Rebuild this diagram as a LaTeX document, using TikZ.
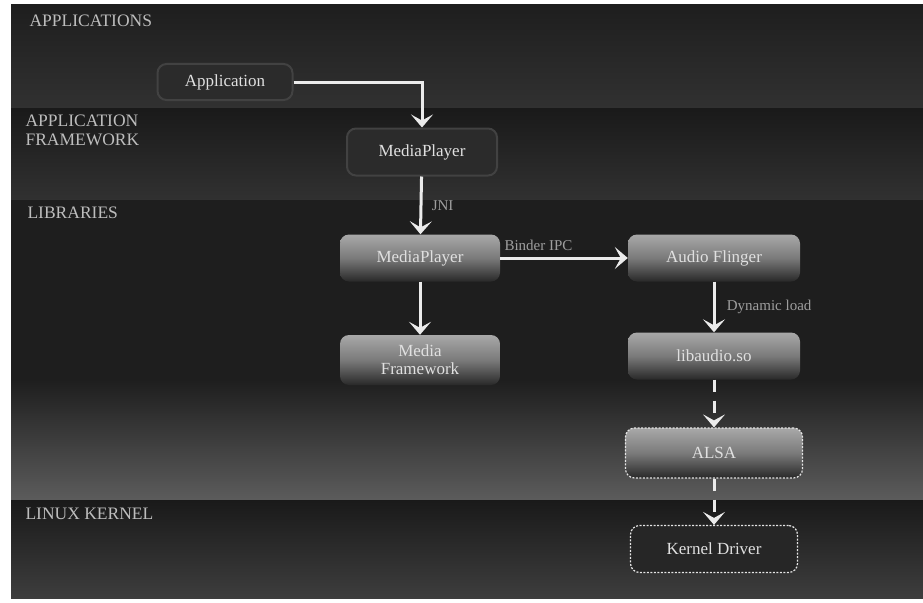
\documentclass[tikz,border=0pt]{standalone}
\usepackage{fontspec}
\setmainfont{Liberation Serif}
\usetikzlibrary{arrows.meta}

\definecolor{bgdark}{HTML}{1E1E1E}
\definecolor{bandlight}{HTML}{313131}
\definecolor{txtgray}{HTML}{BDBDBD}

\tikzset{
  layer/.style={font=\fontsize{17.5}{19}\selectfont, text=txtgray, anchor=north west, align=left},
  box/.style={rounded corners=9pt, minimum height=47pt, text=white!88!black,
    font=\fontsize{17}{18}\selectfont, align=center, inner sep=2pt},
  glossy/.style={box, top color=white!66!black, bottom color=black!84, middle color=black!52},
  flatbox/.style={box, fill=black!83, draw=black!74, line width=2pt},
  dashbox/.style={draw=white!90!black, dash pattern=on 2pt off 1.5pt, line width=1.2pt},
  flow/.style={draw=white!92!black, line width=3pt,
    -{Stealth[length=13pt, width=22pt, inset=6pt]}},
  dflow/.style={flow, dash pattern=on 12pt off 9pt},
  lbl/.style={font=\fontsize{15}{17}\selectfont, text=white!62!black}
}

\begin{document}
\begin{tikzpicture}[x=1pt, y=-1pt]
  \useasboundingbox (0,0) rectangle (923,602);
  \fill[white] (0,0) rectangle (923,602);
  % layers
  \shade[top color=bgdark, bottom color=bandlight] (11,5) rectangle (923,108);
  \shade[top color=black!90, bottom color=bandlight] (11,108) rectangle (923,200);
  \fill[bgdark] (11,200) rectangle (923,500);
  \shade[top color=bgdark, bottom color=black!64] (11,380) rectangle (923,500);
  \shade[top color=black!90, bottom color=black!76] (11,500) rectangle (923,598);
  \node[layer] (lapp) at (26,11) {APPLICATIONS};
  \node[layer] (lfw) at (22,111) {APPLICATION\\FRAMEWORK};
  \node[layer] (llib) at (24,203) {LIBRARIES};
  \node[layer] (lkern) at (22,505) {LINUX KERNEL};

  % nodes
  \node[flatbox, minimum width=135pt, minimum height=36pt] (app) at (225,82) {Application};
  \node[flatbox, minimum width=150pt] (mpfw) at (422,152) {MediaPlayer};
  \node[glossy, minimum width=160pt] (mplib) at (420,258) {MediaPlayer};
  \node[glossy, minimum width=160pt, minimum height=50pt] (media) at (420,360) {Media\\Framework};
  \node[glossy, minimum width=172pt] (flinger) at (714,258) {Audio Flinger};
  \node[glossy, minimum width=172pt] (libaudio) at (714,356) {libaudio.so};
  \node[glossy, dashbox, minimum width=177pt, minimum height=50pt] (alsa) at (714,453) {ALSA};
  \node[box, fill=black!85, dashbox, minimum width=167pt] (kdrv) at (714,549) {Kernel Driver};

  % connectors
  \draw[flow] (app) -| (mpfw);
  \draw[flow] (mpfw) -- node[lbl, right=6pt] {JNI} (mplib);
  \draw[flow] (mplib) -- (media);
  \draw[flow] (mplib) -- node[lbl, above=3pt, pos=0.3] {Binder IPC} (flinger);
  \draw[flow] (flinger) -- node[lbl, right=8pt] {Dynamic load} (libaudio);
  \draw[dflow] (libaudio) -- (alsa);
  \draw[dflow] (alsa) -- (kdrv);
\end{tikzpicture}
\end{document}
